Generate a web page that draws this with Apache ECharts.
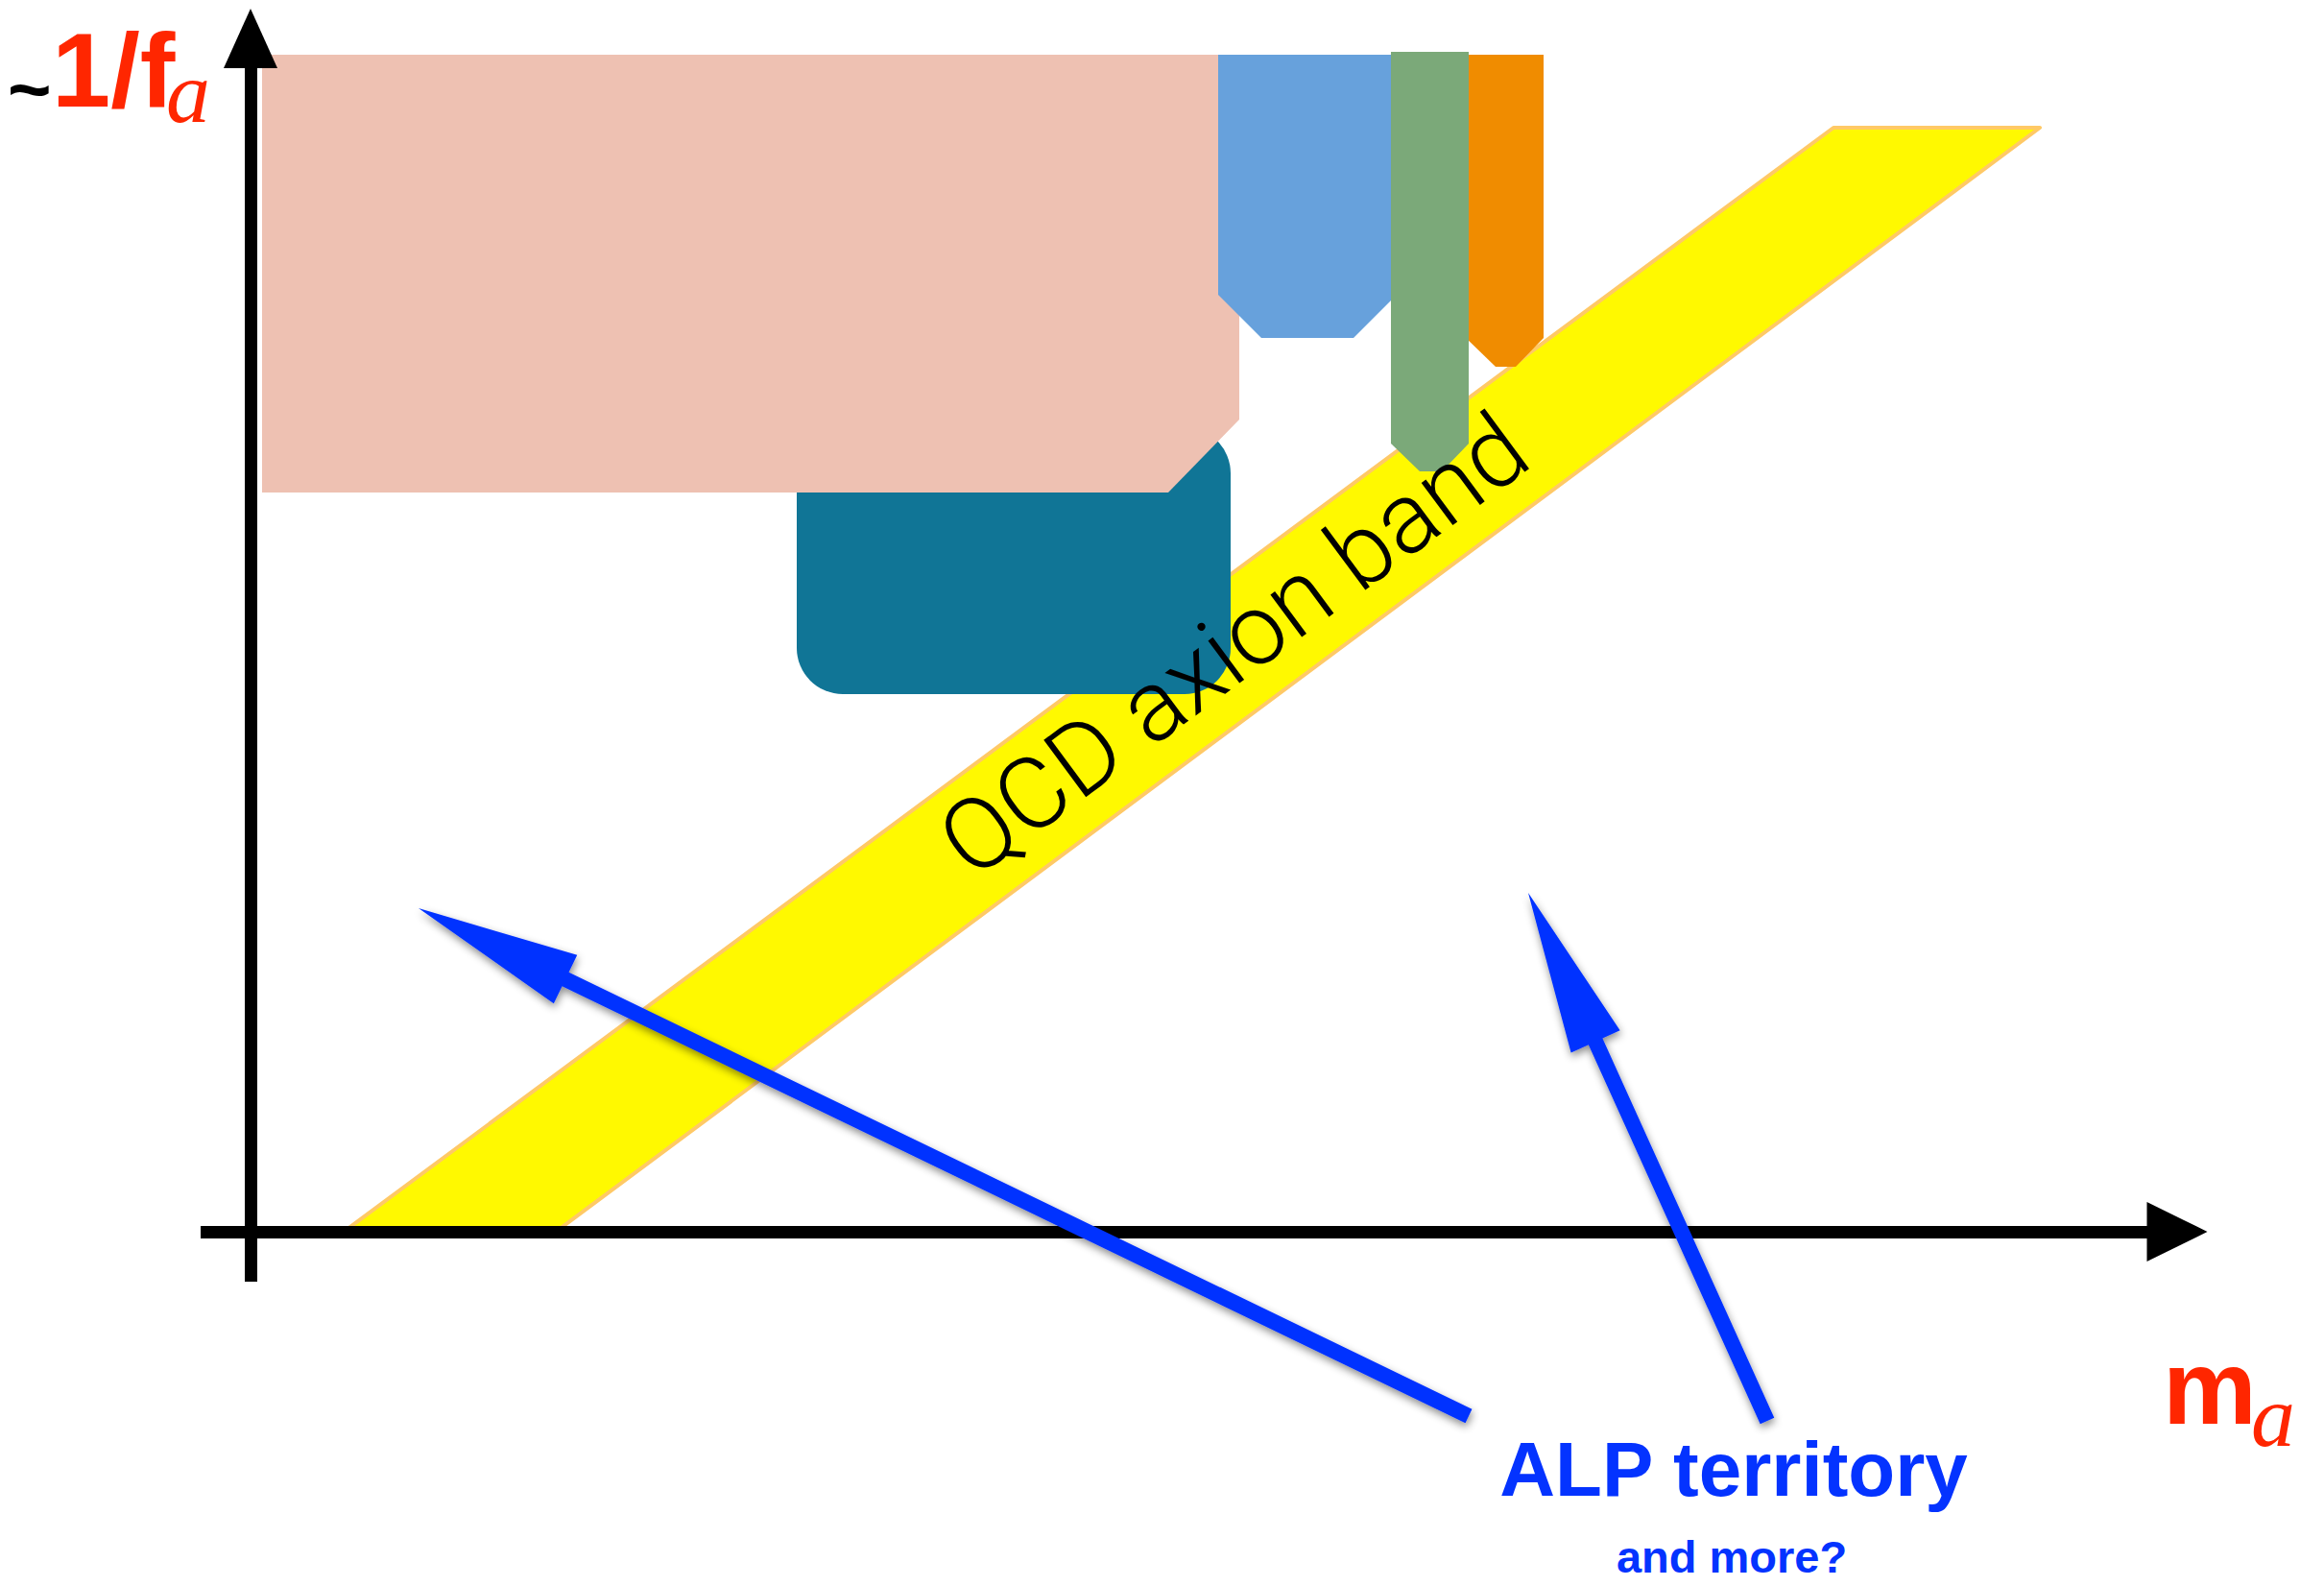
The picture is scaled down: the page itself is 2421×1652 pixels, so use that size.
<!DOCTYPE html>
<html>
<head>
<meta charset="utf-8">
<script src="https://cdn.jsdelivr.net/npm/echarts@6/dist/echarts.min.js"></script>
<style>
  html, body { margin: 0; padding: 0; background: #fff; }
  #chart { width: 2421px; height: 1652px; }
</style>
</head>
<body>
<div id="chart"></div>
<script>
// schematic units: origin where the two axes cross, x to the right, y upward
const xRange = [-52, 2007];
const yRange = [-52, 1243];

const axionBand = [[97, 0], [318, 0], [1864, 1150], [1649, 1150]];
const bandLabelAt = [1024, 611];
const bandLabel = 'QCD axion band';

const pinkRegion = [[12, 1226], [1030, 1226], [1030, 846], [956, 770], [12, 770]];
const tealRegion = [[569, 838], [1021, 560]]; // two opposite corners
const blueRegion = [[1008, 1226], [1188, 1226], [1188, 970], [1149, 931], [1053, 931], [1008, 976]];
const orangeRegion = [[1263, 1226], [1347, 1226], [1347, 931], [1318, 901], [1297, 901], [1263, 934]];
const greenRegion = [[1188, 1229], [1269, 1229], [1269, 821], [1241, 792], [1218, 792], [1188, 821]];

const arrowTails = [[1269, -192], [1580, -197]];
const arrowTips = [[175, 337], [1331, 353]];

const regions = [
    { pts: axionBand, color: '#FFF900', stroke: '#FFC966' },
    { rect: tealRegion, color: '#107596' },
    { pts: pinkRegion, color: '#EEC1B2' },
    { pts: blueRegion, color: '#67A1DC' },
    { pts: orangeRegion, color: '#F08C00' },
    { pts: greenRegion, color: '#7BA979' }
];

const chart = echarts.init(document.getElementById('chart'), null, { renderer: 'svg' });

function renderRegion(params, api) {
    let r = regions[params.dataIndex];
    if (r.rect) {
        let a = api.coord(r.rect[0]);
        let b = api.coord(r.rect[1]);
        return {
            type: 'rect',
            z2: params.dataIndex,
            shape: { x: a[0], y: a[1], width: b[0] - a[0], height: b[1] - a[1], r: 48 },
            style: { fill: r.color }
        };
    }
    return {
        type: 'polygon',
        z2: params.dataIndex,
        shape: { points: r.pts.map(p => api.coord(p)) },
        style: { fill: r.color, stroke: r.stroke || null, lineWidth: r.stroke ? 4 : 0, lineJoin: 'round' }
    };
}

function renderBandLabel(params, api) {
    let p1 = api.coord(axionBand[0]);
    let p2 = api.coord(axionBand[3]);
    let c = api.coord(bandLabelAt);
    let angle = Math.atan2(-(p2[1] - p1[1]), p2[0] - p1[0]);
    return {
        type: 'text',
        x: c[0],
        y: c[1],
        rotation: angle,
        style: {
            text: bandLabel,
            font: '300 104px Roboto, "Open Sans", sans-serif',
            fill: '#000',
            align: 'center',
            verticalAlign: 'middle'
        }
    };
}

function renderArrow(params, api) {
    let t = api.coord(arrowTails[params.dataIndex]);
    let h = api.coord(arrowTips[params.dataIndex]);
    let dx = h[0] - t[0], dy = h[1] - t[1];
    let len = Math.sqrt(dx * dx + dy * dy);
    let ux = dx / len, uy = dy / len;
    let nx = -uy, ny = ux;
    let headLen = 170, headW = 28, shaftW = 8;
    let bx = h[0] - ux * headLen, by = h[1] - uy * headLen;
    let pts = [
        [t[0] + nx * shaftW, t[1] + ny * shaftW],
        [bx + nx * shaftW, by + ny * shaftW],
        [bx + nx * headW, by + ny * headW],
        h,
        [bx - nx * headW, by - ny * headW],
        [bx - nx * shaftW, by - ny * shaftW],
        [t[0] - nx * shaftW, t[1] - ny * shaftW]
    ];
    return {
        type: 'polygon',
        shape: { points: pts },
        style: {
            fill: '#0433FF',
            shadowColor: 'rgba(0,0,0,0.45)',
            shadowBlur: 8,
            shadowOffsetX: 1,
            shadowOffsetY: 4
        }
    };
}

function axisOpt(range, size) {
    return {
        type: 'value',
        min: range[0],
        max: range[1],
        z: 3,
        axisLine: {
            onZero: true,
            lineStyle: { color: '#000', width: 13, cap: 'butt' },
            symbol: ['none', 'triangle'],
            symbolSize: size
        },
        axisTick: { show: false },
        axisLabel: { show: false },
        splitLine: { show: false }
    };
}

const labelFont = '"Liberation Sans", Helvetica, Arial, sans-serif';
const italicFont = '"Liberation Serif", "Times New Roman", serif';

let option = {
    animation: false,
    backgroundColor: '#fff',
    grid: { left: 209, right: 153, top: 40, bottom: 317, outerBoundsMode: 'none' },
    xAxis: axisOpt(xRange, [62, 63]),
    yAxis: axisOpt(yRange, [56, 62]),
    series: [
        {
            type: 'custom',
            z: 1,
            clip: false,
            data: regions.map((r, i) => i),
            renderItem: renderRegion
        },
        {
            type: 'custom',
            z: 2,
            clip: false,
            data: [0],
            renderItem: renderBandLabel
        },
        {
            type: 'custom',
            z: 5,
            clip: false,
            data: arrowTips.map((p, i) => i),
            renderItem: renderArrow
        }
    ],
    graphic: [
        { type: 'text', x: 8, y: 93, style: { text: '~', font: 'bold 78px ' + labelFont, fill: '#000', verticalAlign: 'middle' } },
        { type: 'text', x: 54, y: 72, style: { text: '1/f', font: 'bold 110px ' + labelFont, fill: '#FF2600', verticalAlign: 'middle' } },
        { type: 'text', x: 173, y: 96, style: { text: 'a', font: 'italic 92px ' + italicFont, fill: '#FF2600', verticalAlign: 'middle' } },
        { type: 'text', x: 2253, y: 1444, style: { text: 'm', font: 'bold 110px ' + labelFont, fill: '#FF2600', verticalAlign: 'middle' } },
        { type: 'text', x: 2345, y: 1475, style: { text: 'a', font: 'italic 92px ' + italicFont, fill: '#FF2600', verticalAlign: 'middle' } },
        { type: 'text', x: 1806, y: 1530, style: { text: 'ALP territory', font: 'bold 80px ' + labelFont, fill: '#0433FF', align: 'center', verticalAlign: 'middle' } },
        { type: 'text', x: 1804, y: 1621, style: { text: 'and more?', font: 'bold 47px ' + labelFont, fill: '#0433FF', align: 'center', verticalAlign: 'middle' } }
    ]
};

chart.setOption(option);
</script>
</body>
</html>
